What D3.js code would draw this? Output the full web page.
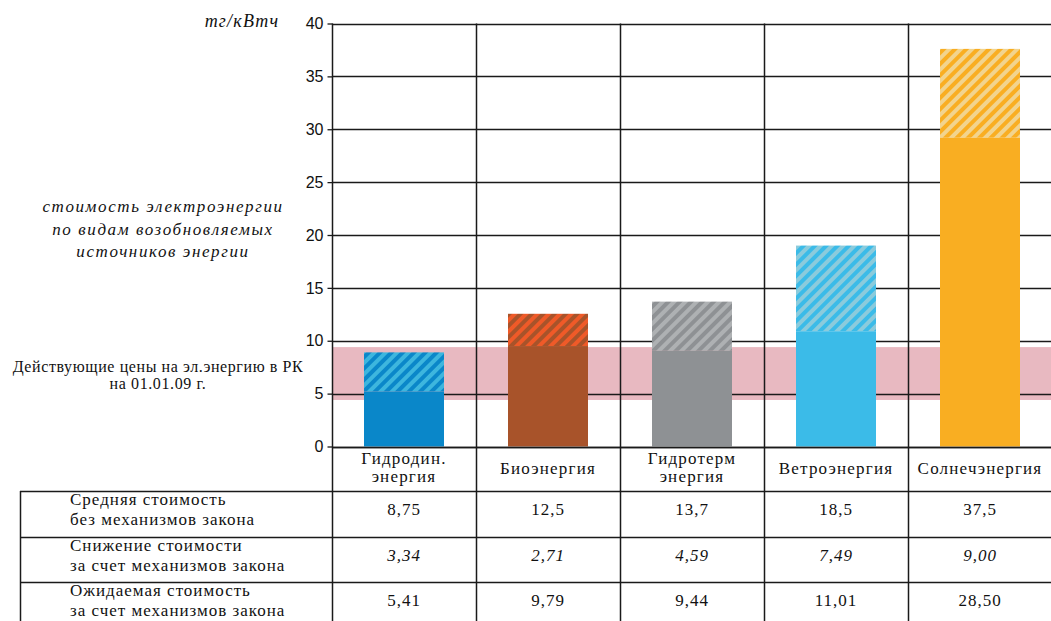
<!DOCTYPE html>
<html>
<head>
<meta charset="utf-8">
<script src="https://cdn.jsdelivr.net/npm/d3@7"></script>
<style>
  body { margin: 0; background: #fff; }
  svg { display: block; }
  text { fill: #111; }
</style>
</head>
<body>
<div id="chart-area"></div>
<script>
// Data
const categories = ['hydro', 'bio', 'geo', 'wind', 'solar']
const categoryLabels = [['Гидродин.', 'энергия'], ['Биоэнергия'], ['Гидротерм', 'энергия'], ['Ветроэнергия'], ['Солнечэнергия']]
const barTotal = [8.9, 12.55, 13.7, 19.0, 37.6]     // top of bar
const barSolid = [5.2, 9.5, 9.05, 10.9, 29.2]       // top of the solid part
const priceBand = [4.4, 9.4]
const yTicks = [0, 5, 10, 15, 20, 25, 30, 35, 40]

const rowLabels = [
	['Средняя стоимость', 'без механизмов закона'],
	['Снижение стоимости', 'за счет механизмов закона'],
	['Ожидаемая стоимость', 'за счет механизмов закона']
]
const avgCost = ['8,75', '12,5', '13,7', '18,5', '37,5']
const reduction = ['3,34', '2,71', '4,59', '7,49', '9,00']
const expected = ['5,41', '9,79', '9,44', '11,01', '28,50']
const tableRows = [avgCost, reduction, expected]

const baseColor = ['#0a87c9', '#a8532a', '#8e9194', '#3bbbe8', '#f9ae22']
const stripeColor = ['#3db6de', '#ef5a28', '#aeb1b3', '#8bcbdc', '#f2d48e']

const canvas = { width: 1051, height: 621 }
const serif = '"Liberation Serif", "DejaVu Serif", serif'

const svg = d3.select('#chart-area')
	.append('svg')
		.attr('width', canvas.width)
		.attr('height', canvas.height)

// Scales
let x = d3.scaleBand()
	.domain(categories)
	.range([332, 1052])
	.paddingInner(64 / 144)
	.paddingOuter(32 / 144)
let y = d3.scaleLinear()
	.domain([0, 40])
	.range([446.5, 23.5])
let row = d3.scaleBand()
	.domain([0, 1, 2])
	.range([491, 628])

// Hatch patterns
let defs = svg.append('defs')
categories.forEach((c, i) => {
	let p = defs.append('pattern')
		.attr('id', `hatch-${c}`)
		.attr('patternUnits', 'userSpaceOnUse')
		.attr('width', 8)
		.attr('height', 8)
		.attr('patternTransform', 'rotate(45)')
	p.append('rect').attr('width', 8).attr('height', 8).attr('fill', baseColor[i])
	p.append('rect').attr('width', 4).attr('height', 8).attr('fill', stripeColor[i])
})

// Price band
svg.append('rect')
	.attr('x', 333)
	.attr('width', canvas.width - 333)
	.attr('y', y(priceBand[1]))
	.attr('height', y(priceBand[0]) - y(priceBand[1]))
	.attr('fill', '#e8b9c1')

// Grid
const lineColor = '#1a1a1a'
svg.append('g')
	.selectAll('line')
	.data(yTicks)
	.enter().append('line')
		.attr('x1', 332).attr('x2', canvas.width)
		.attr('y1', d => Math.round(y(d)) + 0.5)
		.attr('y2', d => Math.round(y(d)) + 0.5)
		.attr('stroke', lineColor)
		.attr('stroke-width', 1.3)

// Bars
let bars = svg.append('g')
	.selectAll('g')
	.data(categories)
	.enter().append('g')
bars.append('rect')
	.attr('x', d => x(d))
	.attr('width', x.bandwidth())
	.attr('y', (d, i) => y(barTotal[i]))
	.attr('height', (d, i) => y(barSolid[i]) - y(barTotal[i]))
	.attr('fill', d => `url(#hatch-${d})`)
bars.append('rect')
	.attr('x', d => x(d))
	.attr('width', x.bandwidth())
	.attr('y', (d, i) => y(barSolid[i]))
	.attr('height', (d, i) => y(0) - y(barSolid[i]))
	.attr('fill', (d, i) => baseColor[i])

// Zero line over bars
svg.append('line')
	.attr('x1', 332).attr('x2', canvas.width)
	.attr('y1', Math.round(y(0)) + 0.5).attr('y2', Math.round(y(0)) + 0.5)
	.attr('stroke', lineColor).attr('stroke-width', 1.3)

// Vertical separators (axis + column borders run down through the table)
let columnEdges = categories.map(d => x(d) - x.step() * x.paddingOuter())
svg.append('g')
	.selectAll('line')
	.data(columnEdges)
	.enter().append('line')
		.attr('x1', d => Math.round(d) + 0.5).attr('x2', d => Math.round(d) + 0.5)
		.attr('y1', y(40)).attr('y2', canvas.height)
		.attr('stroke', lineColor)
		.attr('stroke-width', 1.5)

// Y axis ticks and labels
let yAxis = d3.axisLeft(y)
	.tickValues(yTicks)
	.tickSize(5)
	.tickPadding(4)
	.tickSizeOuter(0)
let axisG = svg.append('g')
	.attr('transform', 'translate(332.5, 0)')
	.call(yAxis)
axisG.select('.domain').remove()
axisG.selectAll('.tick line').attr('stroke', lineColor).attr('stroke-width', 1.3)
axisG.selectAll('.tick text')
	.attr('font-family', '"Liberation Sans", Arial, sans-serif')
	.attr('font-size', 16)
	.attr('fill', '#111')

// Unit label
svg.append('text')
	.attr('x', 242)
	.attr('y', 27)
	.attr('text-anchor', 'middle')
	.attr('font-family', serif)
	.attr('font-style', 'italic')
	.attr('font-size', 18)
	.attr('letter-spacing', 1.2)
	.text('тг/кВтч')

// Left notes
const note = ['стоимость электроэнергии', 'по видам возобновляемых', 'источников энергии']
svg.append('text')
	.attr('font-family', serif)
	.attr('font-style', 'italic')
	.attr('font-size', 17)
	.attr('letter-spacing', 1.6)
	.attr('text-anchor', 'middle')
	.selectAll('tspan')
	.data(note)
	.enter().append('tspan')
		.attr('x', 163)
		.attr('y', (d, i) => 212 + i * 22.5)
		.text(d => d)

const priceNote = ['Действующие цены на эл.энергию в РК', 'на 01.01.09 г.']
svg.append('text')
	.attr('font-family', serif)
	.attr('font-size', 16)
	.attr('letter-spacing', 0.6)
	.attr('text-anchor', 'middle')
	.selectAll('tspan')
	.data(priceNote)
	.enter().append('tspan')
		.attr('x', 158)
		.attr('y', (d, i) => 372 + i * 17)
		.text(d => d)

// Category labels
let catText = svg.append('g')
	.selectAll('text')
	.data(categories)
	.enter().append('text')
		.attr('font-family', serif)
		.attr('font-size', 17)
		.attr('letter-spacing', 1.2)
		.attr('text-anchor', 'middle')
catText.selectAll('tspan')
	.data((d, i) => categoryLabels[i].map(l => ({ cat: d, text: l, n: categoryLabels[i].length })))
	.enter().append('tspan')
		.attr('x', d => x(d.cat) + x.bandwidth() / 2)
		.attr('y', (d, i) => d.n === 1 ? 474 : 464 + i * 18)
		.text(d => d.text)

// Table
svg.append('g')
	.selectAll('line')
	.data([0, 1, 2])
	.enter().append('line')
		.attr('x1', 20).attr('x2', canvas.width)
		.attr('y1', d => Math.round(row(d)) + 0.5).attr('y2', d => Math.round(row(d)) + 0.5)
		.attr('stroke', lineColor)
		.attr('stroke-width', 1.5)
svg.append('line')
	.attr('x1', 20.5).attr('x2', 20.5)
	.attr('y1', row(0)).attr('y2', canvas.height)
	.attr('stroke', lineColor)
	.attr('stroke-width', 1.5)

rowLabels.forEach((lines, r) => {
	svg.append('text')
		.attr('font-family', serif)
		.attr('font-size', 17)
		.attr('letter-spacing', 1)
		.selectAll('tspan')
		.data(lines)
		.enter().append('tspan')
			.attr('x', 70)
			.attr('y', (d, i) => row(r) + 14 + i * 20)
			.text(d => d)
})

tableRows.forEach((values, r) => {
	svg.append('g')
		.selectAll('text')
		.data(values)
		.enter().append('text')
			.attr('x', (d, i) => x(categories[i]) + x.bandwidth() / 2)
			.attr('y', row(r) + 24)
			.attr('text-anchor', 'middle')
			.attr('font-family', serif)
			.attr('font-size', 17)
			.attr('letter-spacing', 1)
			.attr('font-style', r === 1 ? 'italic' : 'normal')
			.text(d => d)
})
</script>
</body>
</html>
